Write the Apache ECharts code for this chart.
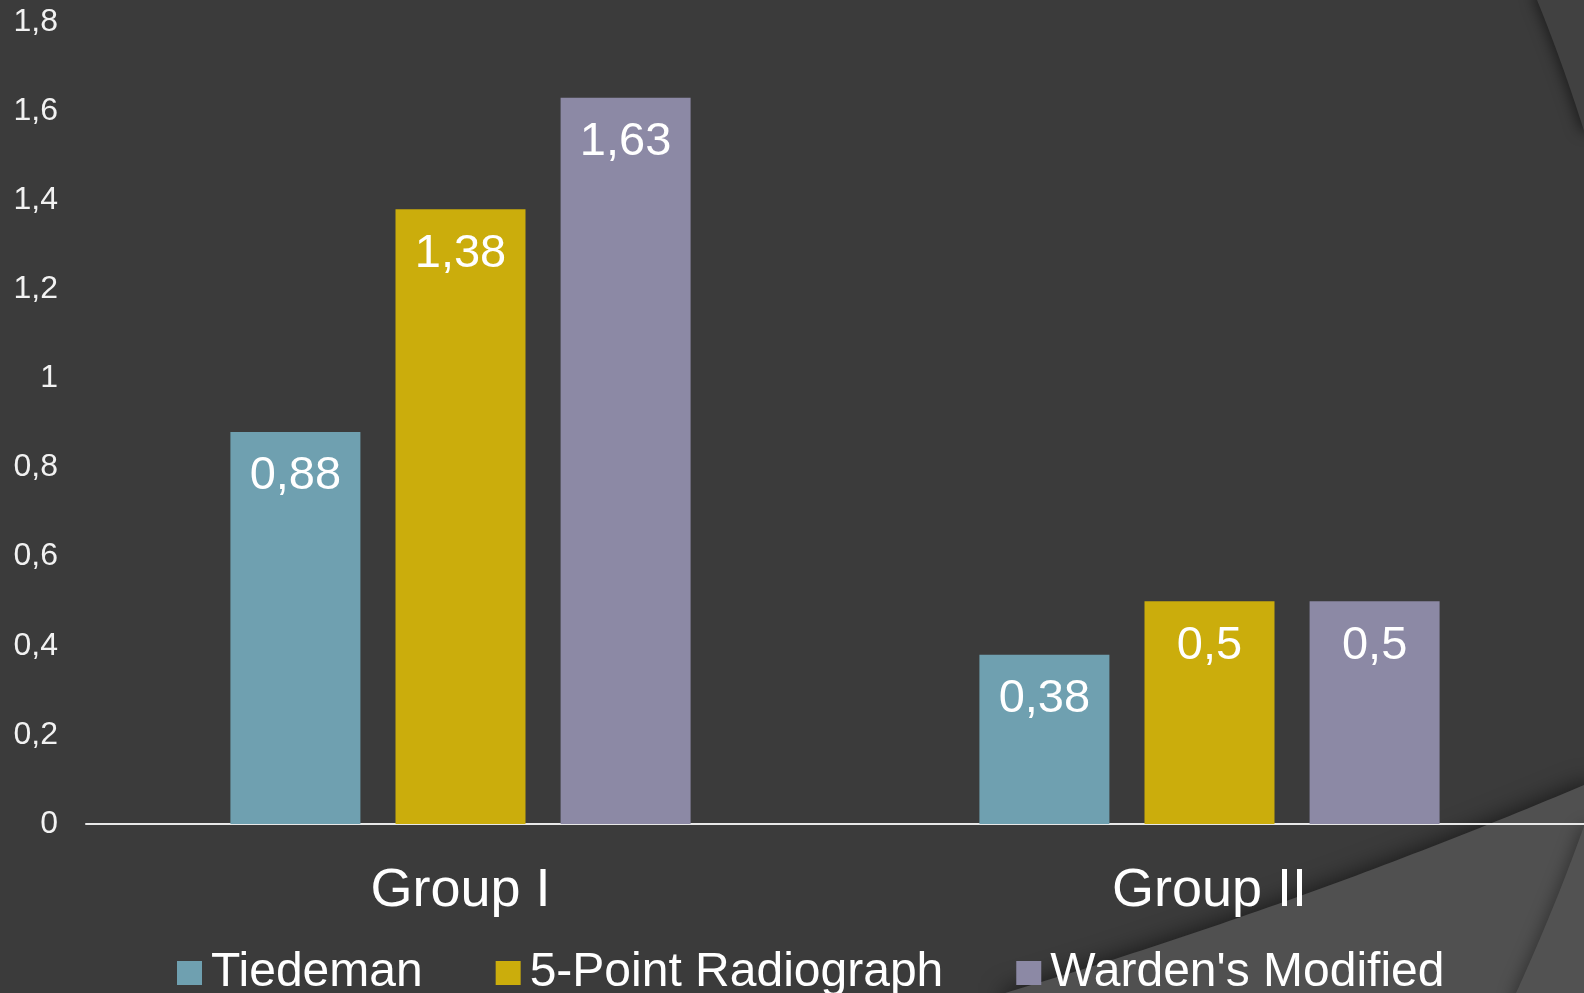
<!DOCTYPE html>
<html>
<head>
<meta charset="utf-8">
<title>Group comparison</title>
<script src="https://cdn.jsdelivr.net/npm/echarts@6/dist/echarts.min.js"></script>
<style>
  html, body { margin: 0; padding: 0; background: #3b3b3b; }
  #chart { width: 1584px; height: 993px; }
</style>
</head>
<body>
<div id="chart"></div>
<script>
// Categories and series values
const categories = ['Group I', 'Group II'];
const seriesNames = ['Tiedeman', '5-Point Radiograph', "Warden's Modified"];
const tiedeman = [0.88, 0.38];
const fivePoint = [1.38, 0.5];
const wardens = [1.63, 0.5];
const seriesColors = ['#6fa0b0', '#cbad0c', '#8c89a5'];

// Y axis tick labels (decimal comma)
const yTickLabels = ['0', '0,2', '0,4', '0,6', '0,8', '1', '1,2', '1,4', '1,6', '1,8'];
const yStep = 0.2;

const seriesValues = [tiedeman, fivePoint, wardens];

const commaNum = v => String(v).replace('.', ',');

// Outline of a background swoosh: a quadratic curve closed through extra corner points
function swoosh(p0, c, p1, corners) {
  const pts = [];
  const n = 60;
  for (let i = 0; i <= n; i++) {
    const t = i / n, u = 1 - t;
    pts.push([
      u * u * p0[0] + 2 * u * t * c[0] + t * t * p1[0],
      u * u * p0[1] + 2 * u * t * c[1] + t * t * p1[1]
    ]);
  }
  return pts.concat(corners);
}

const chart = echarts.init(document.getElementById('chart'), null, { renderer: 'canvas' });

const option = {
  backgroundColor: '#3b3b3b',
  animation: false,
  textStyle: { fontFamily: 'Liberation Sans, Arial, sans-serif' },
  graphic: [
    // lighter sweep in the lower right corner
    {
      type: 'polygon', z: -10, silent: true,
      shape: { points: swoosh([1005, 993], [1300, 905], [1584, 785], [[1600, 785], [1600, 1010], [1005, 1010]]) },
      style: { fill: '#505050', shadowBlur: 22, shadowColor: 'rgba(0,0,0,0.55)', shadowOffsetX: -2, shadowOffsetY: -2 }
    },
    {
      type: 'polygon', z: -9, silent: true,
      shape: { points: swoosh([1584, 826], [1556, 905], [1516, 993], [[1516, 1010], [1600, 1010], [1600, 826]]) },
      style: { fill: '#525252', shadowBlur: 16, shadowColor: 'rgba(0,0,0,0.35)', shadowOffsetX: -3 }
    },
    // faint band at the top right edge
    {
      type: 'polygon', z: -10, silent: true,
      shape: { points: swoosh([1537, 0], [1563, 64], [1584, 131], [[1600, 131], [1600, -10], [1537, -10]]) },
      style: { fill: '#414141', shadowBlur: 14, shadowColor: 'rgba(0,0,0,0.5)', shadowOffsetX: -3 }
    }
  ],
  grid: { left: 86, right: 0, top: 22, bottom: 169, containLabel: false },
  legend: {
    left: 177,
    top: 949,
    padding: 0,
    icon: 'rect',
    itemWidth: 25,
    itemHeight: 24,
    itemGap: 73,
    data: seriesNames,
    textStyle: { color: '#ffffff', fontSize: 48, padding: [0, 0, 0, 4] }
  },
  xAxis: {
    type: 'category',
    data: categories,
    axisLine: { show: true, lineStyle: { color: '#e8e8e8', width: 2 } },
    axisTick: { show: false },
    axisLabel: { color: '#ffffff', fontSize: 54, margin: 40 },
    splitLine: { show: false }
  },
  yAxis: {
    type: 'value',
    min: 0,
    max: 1.8,
    interval: yStep,
    axisLine: { show: false },
    axisTick: { show: false },
    splitLine: { show: false },
    axisLabel: {
      color: '#f2f2f2',
      fontSize: 32,
      margin: 28,
      formatter: v => yTickLabels[Math.round(v / yStep)]
    }
  },
  series: seriesNames.map((name, i) => ({
    name,
    type: 'bar',
    data: seriesValues[i],
    barWidth: 130,
    barGap: '27%',
    itemStyle: { color: seriesColors[i] },
    label: {
      show: true,
      position: 'insideTop',
      distance: 21,
      color: '#ffffff',
      fontSize: 47,
      formatter: p => commaNum(p.value)
    }
  }))
};

chart.setOption(option);
</script>
</body>
</html>
